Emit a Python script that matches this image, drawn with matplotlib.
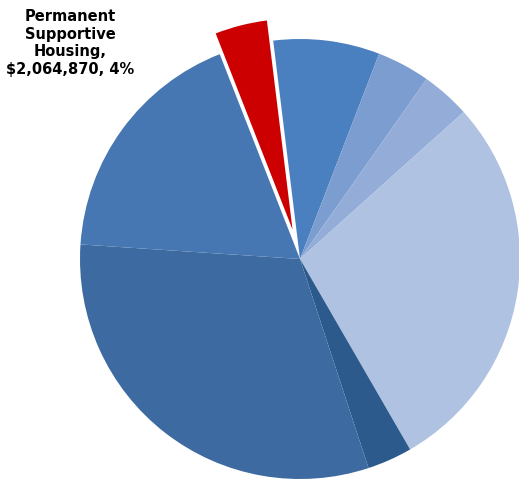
import numpy as np
import matplotlib.pyplot as plt

# tamaños de las porciones (%), en sentido horario desde arriba
categorias = ['A', 'B', 'C', 'D', 'E', 'F', 'G', 'Permanent Supportive Housing']
valores = [7.8, 3.9, 3.6, 28.3, 3.3, 31.1, 18.0, 4.0]
colores = ['#4a7fc0', '#7b9dd0', '#93acd8', '#b0c2e2', '#2d5a8c',
           '#3d6aa0', '#4677b2', '#cc0000']
separar = [0, 0, 0, 0, 0, 0, 0, 0.1]
etiqueta = 'Permanent\nSupportive\nHousing,\n$2,064,870, 4%'

fig = plt.figure(figsize=(5.19, 4.85), dpi=100)
ax = fig.add_axes([0, 0, 1, 1])

cunas, _ = ax.pie(valores, colors=colores, explode=separar, startangle=97,
                  counterclock=False, radius=1.0)
cunas[-1].set_edgecolor('white')
cunas[-1].set_linewidth(1.5)

ax.text(-1.045, 0.986, etiqueta, ha='center', va='center', fontsize=10.5,
        fontweight='bold', linespacing=1.2)

ax.set_aspect('auto')
ax.set_xlim(-300 / 220, 219 / 220)
ax.set_ylim(-225 / 220, 260 / 220)
ax.axis('off')

fig.savefig('out.png', dpi=100)
